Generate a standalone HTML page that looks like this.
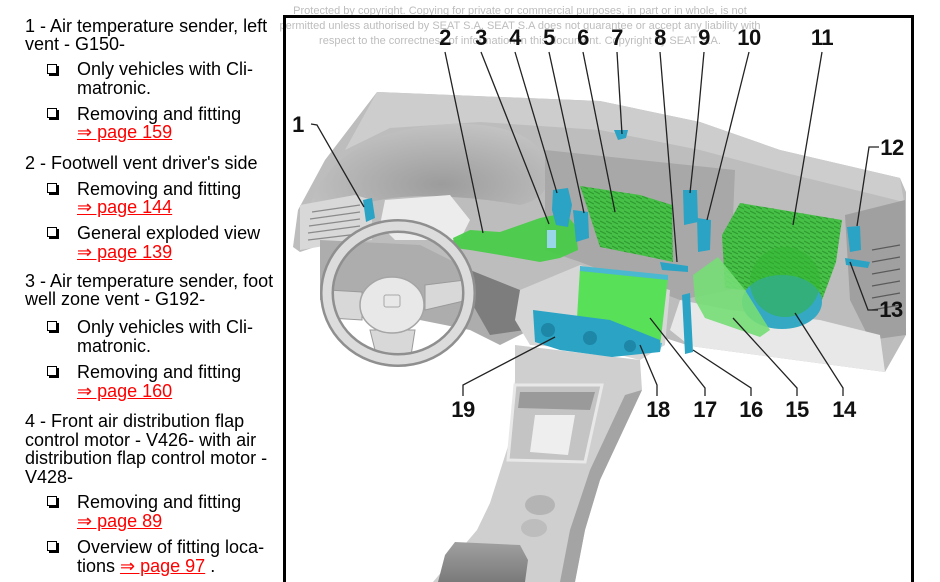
<!DOCTYPE html>
<html><head><meta charset="utf-8">
<style>
html,body{margin:0;padding:0;background:#fff;width:940px;height:582px;overflow:hidden;}
body{position:relative;font-family:"Liberation Sans",Arial,sans-serif;}
.t{position:absolute;font-size:18px;line-height:20px;color:#000;white-space:nowrap;}
.r{color:#f00;text-decoration:underline;text-decoration-color:#f00;}
.cb{position:absolute;left:47px;width:8px;height:8px;border:1.4px solid #000;box-shadow:2px 2px 0 #000;background:#fff;}
.wm{position:absolute;left:220px;width:600px;text-align:center;font-size:11px;line-height:15px;color:#bdbdbd;white-space:nowrap;}
#frame{position:absolute;left:283px;top:15px;width:625px;height:564px;border:3px solid #000;border-bottom:none;}
</style></head><body>
<div class="wm" style="top:4px">Protected by copyright. Copying for private or commercial purposes, in part or in whole, is not</div>
<div class="wm" style="top:19px">permitted unless authorised by SEAT S.A. SEAT S.A does not guarantee or accept any liability with</div>
<div class="wm" style="top:34px">respect to the correctness of information in this document. Copyright by SEAT S.A.</div>
<div id="frame"></div>

<svg width="940" height="582" style="position:absolute;left:0;top:0" xmlns="http://www.w3.org/2000/svg">
<defs>
<radialGradient id="hood" cx="0.55" cy="0.6" r="0.6"><stop offset="0" stop-color="#9c9c9c"/><stop offset="1" stop-color="#c2c2c2"/></radialGradient>
<linearGradient id="arm" x1="0" y1="0" x2="0" y2="1"><stop offset="0" stop-color="#a0a0a0"/><stop offset="1" stop-color="#7a7a7a"/></linearGradient>
<pattern id="grill" width="6" height="5" patternUnits="userSpaceOnUse"><rect width="6" height="5" fill="#46c046"/><path d="M0,1 L6,4" stroke="#2f9a2f" stroke-width="1.2"/></pattern>
</defs>
<!-- dashboard base -->
<polygon points="377,92 600,101 700,122 780,150 900,178 906,192 906,335 885,372 690,346 640,330 560,300 520,292 470,298 420,248 330,242 300,252 293,247 298,210 325,160" fill="#bdbdbd"/>
<polygon points="377,92 600,101 700,122 780,150 900,178 904,202 790,174 700,150 600,130 480,122 390,128 345,150" fill="#cdcdcd"/>
<path d="M310,205 C325,160 370,128 450,124 C510,122 545,140 548,170 C550,190 540,200 520,205 C480,198 420,192 380,200 C350,205 330,215 310,225 Z" fill="url(#hood)"/>
<polygon points="385,200 450,195 470,220 460,240 395,240 380,225" fill="#ececec"/>
<polygon points="300,205 355,195 372,200 372,240 330,245 300,250" fill="#d8d8d8"/>
<g stroke="#8a8a8a" stroke-width="1.2"><line x1="312" y1="212" x2="360" y2="205"/><line x1="310" y1="219" x2="360" y2="212"/><line x1="309" y1="226" x2="360" y2="219"/><line x1="308" y1="233" x2="360" y2="226"/><line x1="308" y1="240" x2="358" y2="234"/></g>
<polygon points="545,150 735,170 730,290 680,300 580,262 545,250" fill="#a8a8a8"/>
<polygon points="845,215 905,200 906,335 870,340 850,300" fill="#a0a0a0"/>
<g stroke="#5a5a5a" stroke-width="1.2"><line x1="872" y1="250" x2="900" y2="245"/><line x1="872" y1="262" x2="900" y2="257"/><line x1="872" y1="274" x2="900" y2="269"/><line x1="872" y1="286" x2="900" y2="281"/><line x1="872" y1="298" x2="900" y2="293"/><line x1="872" y1="310" x2="900" y2="305"/></g>
<polygon points="680,300 730,310 820,320 880,335 885,372 690,346 670,330" fill="#e8e8e8"/>
<polygon points="320,240 420,245 470,270 520,290 530,330 500,345 470,330 320,300" fill="#adadad"/>
<polygon points="470,270 520,290 525,330 490,335 470,300" fill="#7d7d7d"/>
<polygon points="520,290 580,265 670,290 665,345 640,360 600,350 530,345 515,320" fill="#d6d6d6"/>
<!-- console -->
<polygon points="515,345 640,360 642,390 600,480 585,530 575,582 433,582 477,530 490,503 510,440 515,380" fill="#cfcfcf"/>
<polygon points="642,390 600,480 585,530 575,582 560,582 570,530 590,470 625,395" fill="#a4a4a4"/>
<polygon points="515,385 602,385 585,462 508,460" fill="#c4c4c4" stroke="#e8e8e8" stroke-width="3"/>
<polygon points="535,415 575,415 568,455 530,452" fill="#eeeeee"/>
<polygon points="520,392 595,392 590,410 518,408" fill="#9a9a9a"/>
<ellipse cx="540" cy="505" rx="15" ry="10" fill="#b4b4b4"/>
<ellipse cx="534" cy="528" rx="13" ry="9" fill="#bdbdbd"/>
<polygon points="455,542 520,545 528,560 525,582 438,582 445,555" fill="url(#arm)"/>
<!-- greens -->
<polygon points="453,238 470,230 500,232 540,218 565,213 575,225 578,250 560,258 540,262 500,255 470,250 455,248" fill="#45cc45" opacity="0.92"/>
<polygon points="580,186 640,195 672,205 673,262 640,255 600,247 588,210" fill="url(#grill)"/>
<polygon points="740,203 842,220 836,262 822,300 760,292 725,288 722,235" fill="url(#grill)"/>
<ellipse cx="782" cy="302" rx="40" ry="27" fill="#35a9c4"/>
<circle cx="785" cy="282" r="35" fill="#2fb52f" opacity="0.5"/>
<polygon points="693,275 718,257 745,290 770,330 760,337 705,318 695,300" fill="#76dd76" opacity="0.9"/>
<polygon points="580,268 668,277 660,347 640,346 577,318" fill="#58e058"/>
<polygon points="580,266 668,275 668,280 580,271" fill="#49b8d0"/>
<polygon points="615,335 662,343 660,352 615,345" fill="#49b8d0"/>
<!-- blue parts -->
<g fill="#2aa3c4">
<polygon points="363,200 372,198 375,218 366,222"/>
<polygon points="553,190 568,188 572,205 568,227 556,225 552,210"/>
<polygon points="573,210 588,212 589,238 576,242"/>
<polygon points="614,130 628,130 626,138 618,140"/>
<polygon points="683,190 697,190 698,222 684,225"/>
<polygon points="697,218 711,220 710,250 698,252"/>
<polygon points="847,227 860,226 861,250 850,252"/>
<polygon points="845,258 870,262 868,268 846,265"/>
<polygon points="660,262 688,266 688,272 662,270"/>
<polygon points="682,295 690,293 693,352 685,354"/>
<polygon points="533,310 610,320 660,340 660,352 612,357 560,350 535,342"/>
</g>
<polygon points="547,230 556,230 556,248 547,248" fill="#9ad6ea"/>
<g fill="#1e86a6"><circle cx="548" cy="330" r="7"/><circle cx="590" cy="338" r="7"/><circle cx="630" cy="346" r="6"/></g>
<!-- steering wheel -->
<polygon points="328,290 362,292 362,320 330,318" fill="#d8d8d8" stroke="#9a9a9a"/>
<polygon points="425,285 465,280 468,300 425,310" fill="#d8d8d8" stroke="#9a9a9a"/>
<polygon points="370,330 415,330 410,362 378,362" fill="#d8d8d8" stroke="#9a9a9a"/>
<ellipse cx="398" cy="293" rx="71" ry="67" fill="none" stroke="#8f8f8f" stroke-width="14"/>
<ellipse cx="398" cy="293" rx="71" ry="67" fill="none" stroke="#dcdcdc" stroke-width="9"/>
<ellipse cx="392" cy="305" rx="32" ry="28" fill="#e8e8e8" stroke="#a5a5a5" stroke-width="1.5"/>
<rect x="384" y="295" width="16" height="12" rx="2" fill="none" stroke="#a8a8a8"/>
<!-- leader lines -->
<g fill="none" stroke="#222" stroke-width="1.3">
<path d="M311,124 L317,125 L364,207"/>
<path d="M445,52 L483,233"/>
<path d="M481,52 L549,224"/>
<path d="M515,52 L557,193"/>
<path d="M549,52 L584,213"/>
<path d="M583,52 L615,212"/>
<path d="M617,52 L622,134"/>
<path d="M660,52 L665,113 L677,262"/>
<path d="M704,52 L698,118 L690,193"/>
<path d="M749,52 L707,220"/>
<path d="M822,52 L793,225"/>
<path d="M879,147 L869,147 L857,226"/>
<path d="M878,310 L868,310 L850,262"/>
<path d="M843,396 L843,388 L795,313"/>
<path d="M797,396 L797,388 L733,318"/>
<path d="M751,396 L751,388 L693,350"/>
<path d="M705,396 L705,388 L650,318"/>
<path d="M657,396 L657,385 L640,345"/>
<path d="M463,396 L463,385 L555,337"/>
</g>
<g font-family="Liberation Sans, Arial, sans-serif" font-weight="bold" font-size="22" fill="#111" text-anchor="middle" letter-spacing="-0.5">
<text x="298" y="132">1</text>
<text x="445" y="45">2</text>
<text x="481" y="45">3</text>
<text x="515" y="45">4</text>
<text x="549" y="45">5</text>
<text x="583" y="45">6</text>
<text x="617" y="45">7</text>
<text x="660" y="45">8</text>
<text x="704" y="45">9</text>
<text x="749" y="45">10</text>
<text x="822" y="45">11</text>
<text x="892" y="155">12</text>
<text x="891" y="317">13</text>
<text x="844" y="417">14</text>
<text x="797" y="417">15</text>
<text x="751" y="417">16</text>
<text x="705" y="417">17</text>
<text x="658" y="417">18</text>
<text x="463" y="417">19</text>
</g>
</svg>

<div class="t" style="top:15.5px;left:25px">1 - Air temperature sender, left</div>
<div class="t" style="top:33.8px;left:25px">vent - G150-</div>
<div class="cb" style="top:63.5px"></div>
<div class="t" style="top:59.3px;left:77px">Only vehicles with Cli-</div>
<div class="t" style="top:78.1px;left:77px">matronic.</div>
<div class="cb" style="top:108px"></div>
<div class="t" style="top:103.8px;left:77px">Removing and fitting</div>
<div class="t" style="top:122.1px;left:77px"><span class="r">⇒ page 159</span></div>
<div class="t" style="top:152.8px;left:25px">2 - Footwell vent driver's side</div>
<div class="cb" style="top:183px"></div>
<div class="t" style="top:178.8px;left:77px">Removing and fitting</div>
<div class="t" style="top:197.1px;left:77px"><span class="r">⇒ page 144</span></div>
<div class="cb" style="top:227.3px"></div>
<div class="t" style="top:223.1px;left:77px">General exploded view</div>
<div class="t" style="top:241.5px;left:77px"><span class="r">⇒ page 139</span></div>
<div class="t" style="top:270.5px;left:25px">3 - Air temperature sender, foot</div>
<div class="t" style="top:289.3px;left:25px">well zone vent - G192-</div>
<div class="cb" style="top:321.3px"></div>
<div class="t" style="top:317.1px;left:77px">Only vehicles with Cli-</div>
<div class="t" style="top:335.5px;left:77px">matronic.</div>
<div class="cb" style="top:366.3px"></div>
<div class="t" style="top:362.1px;left:77px">Removing and fitting</div>
<div class="t" style="top:380.5px;left:77px"><span class="r">⇒ page 160</span></div>
<div class="t" style="top:411.1px;left:25px">4 - Front air distribution flap</div>
<div class="t" style="top:429.8px;left:25px">control motor - V426- with air</div>
<div class="t" style="top:448.1px;left:25px">distribution flap control motor -</div>
<div class="t" style="top:466.5px;left:25px">V428-</div>
<div class="cb" style="top:496.3px"></div>
<div class="t" style="top:492.1px;left:77px">Removing and fitting</div>
<div class="t" style="top:510.5px;left:77px"><span class="r">⇒ page 89</span></div>
<div class="cb" style="top:541.3px"></div>
<div class="t" style="top:537.1px;left:77px">Overview of fitting loca-</div>
<div class="t" style="top:555.5px;left:77px">tions <span class="r">⇒ page 97</span> .</div>
</body></html>
